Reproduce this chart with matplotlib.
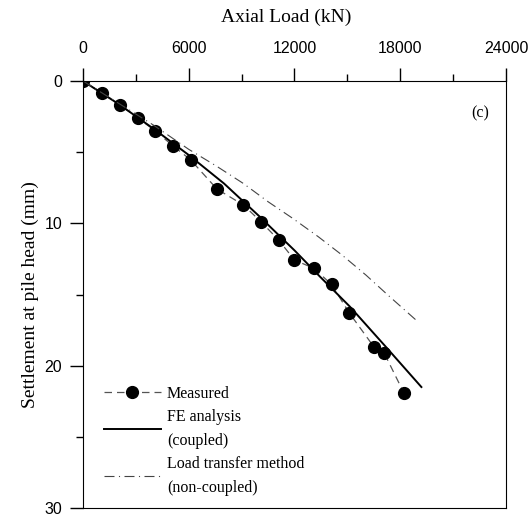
import numpy as np
import matplotlib.pyplot as plt
from matplotlib.ticker import MultipleLocator

# measured load-settlement data
meas_load = [0, 1100, 2100, 3100, 4100, 5100, 6100, 7600, 9100, 10100,
             11100, 12000, 13100, 14100, 15100, 16500, 17100, 18200]
meas_settle = [0, 0.86, 1.69, 2.58, 3.51, 4.55, 5.53, 7.59, 8.71, 9.89,
               11.17, 12.58, 13.16, 14.29, 16.28, 18.67, 19.14, 21.9]

# FE analysis (coupled)
fe_load = [0, 2000, 4000, 6000, 8000, 10000, 12000, 13450, 15150, 17200, 19200]
fe_settle = [0, 1.6, 3.35, 5.2, 7.2, 9.5, 11.9, 13.75, 15.86, 18.7, 21.5]

# load transfer method (non-coupled)
lt_load = [0, 2000, 4000, 6000, 7600, 9100, 10500, 11900, 13350, 14700, 16050, 17300, 18900]
lt_settle = [0, 1.55, 3.1, 4.8, 6.0, 7.2, 8.48, 9.65, 10.94, 12.23, 13.63, 15.04, 16.8]

serif = "Liberation Serif"
sans = "Liberation Sans"

fig = plt.figure(figsize=(5.31, 5.17), dpi=100)
ax = fig.add_axes([0.1563, 0.0174, 0.7966, 0.8259])

ax.plot(meas_load, meas_settle, linestyle=(0, (6, 4)), color="#555555", lw=0.9,
        marker="o", markersize=8.5, markerfacecolor="black", markeredgecolor="black",
        label="Measured")
ax.plot(fe_load, fe_settle, color="black", lw=1.4, label="FE analysis\n(coupled)")
ax.plot(lt_load, lt_settle, color="#444444", lw=0.8, linestyle=(0, (9, 4, 1, 4)),
        label="Load transfer method\n(non-coupled)")

ax.set_xlim(0, 24000)
ax.set_ylim(30, 0)
ax.xaxis.tick_top()
ax.xaxis.set_label_position("top")
ax.xaxis.set_major_locator(MultipleLocator(6000))
ax.xaxis.set_minor_locator(MultipleLocator(3000))
ax.yaxis.set_major_locator(MultipleLocator(10))
ax.yaxis.set_minor_locator(MultipleLocator(5))
ax.tick_params(which="major", direction="out", length=9.5, width=1)
ax.tick_params(which="minor", direction="out", length=5, width=1)
ax.tick_params(axis="x", which="major", pad=8.5)
ax.tick_params(axis="y", which="major", pad=5.5)
ax.tick_params(labelsize=11.5)
for lab in ax.get_xticklabels() + ax.get_yticklabels():
    lab.set_family(sans)

ax.set_xlabel("Axial Load (kN)", family=serif, fontsize=14, labelpad=14, x=0.48)
ax.set_ylabel("Settlement at pile head (mm)", family=serif, fontsize=14, labelpad=4)

ax.text(0.938, 0.925, "(c)", transform=ax.transAxes, family=serif, fontsize=11.5,
        ha="center", va="center")

leg = ax.legend(loc="lower left", bbox_to_anchor=(0.015, -0.005), frameon=False,
                prop={"family": serif, "size": 11.5}, handlelength=3.6,
                handletextpad=0.35, labelspacing=0.45)
for t in leg.get_texts():
    t.set_linespacing(1.65)

fig.savefig("out.png", dpi=100)
